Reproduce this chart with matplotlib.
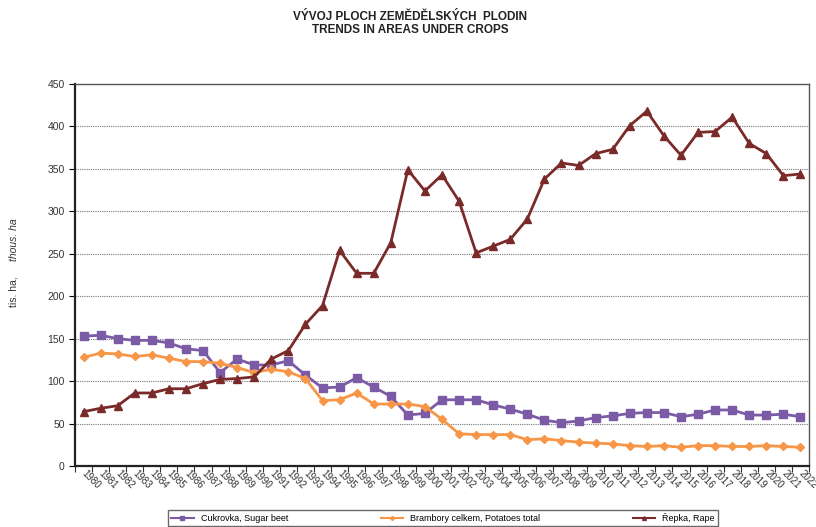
import numpy as np
import matplotlib
matplotlib.use("Agg")
import matplotlib.pyplot as plt
from matplotlib.ticker import MultipleLocator, FixedLocator

# data (thous. ha)
years = list(range(1980, 2023))
sugar_beet = [153, 154, 150, 148, 148, 145, 138, 136, 110, 126,
              119, 119, 124, 107, 92, 93, 104, 93, 82, 60,
              62, 78, 78, 78, 72, 67, 61, 54, 51, 53,
              57, 59, 62, 63, 63, 58, 61, 66, 66, 60,
              60, 61, 58]
potatoes = [128, 133, 132, 129, 131, 127, 123, 123, 121, 116,
            110, 114, 111, 103, 77, 78, 86, 73, 73, 73,
            70, 55, 38, 37, 37, 37, 31, 32, 30, 28,
            27, 26, 24, 23, 24, 22, 24, 24, 23, 23,
            24, 23, 22]
rape = [64, 68, 71, 86, 86, 91, 91, 97, 102, 103,
        105, 126, 136, 167, 189, 254, 227, 227, 263, 349,
        324, 343, 312, 251, 259, 267, 291, 338, 357, 354,
        368, 373, 401, 418, 389, 366, 393, 394, 411, 380,
        368, 342, 344]

labels = ["Cukrovka, Sugar beet", "Brambory celkem, Potatoes total", "Řepka, Rape"]
colors = ["#7B5BA6", "#F79646", "#7B2A2A"]

plt.rcParams['font.family'] = ['Liberation Sans Narrow', 'Liberation Sans', 'DejaVu Sans']

fig = plt.figure(figsize=(8.16, 5.27), dpi=100)
ax = fig.add_axes([75 / 816, 1 - 466 / 527, 734 / 816, 382 / 527])

x = np.arange(len(years))
ax.plot(x, sugar_beet, color=colors[0], lw=2, marker='s', ms=5.5, label=labels[0])
ax.plot(x, potatoes, color=colors[1], lw=2, marker='D', ms=4, label=labels[1])
ax.plot(x, rape, color=colors[2], lw=2, marker='^', ms=5.5, label=labels[2])

ax.set_xlim(-0.5, len(years) - 0.5)
ax.set_ylim(0, 450)
ax.yaxis.set_major_locator(MultipleLocator(50))
ax.grid(axis='y', color='#777777', linestyle=(0, (1, 1)), linewidth=0.8)
ax.set_axisbelow(True)

# ticks at category boundaries, labels at category centers
ax.xaxis.set_major_locator(FixedLocator(x))
ax.xaxis.set_minor_locator(FixedLocator(np.arange(-0.5, len(years), 1)))
ax.tick_params(axis='x', which='major', length=0, pad=4)
ax.tick_params(axis='x', which='minor', length=4, width=0.8, color='#333333')
ax.tick_params(axis='y', length=4, width=0.8, labelsize=7.5, labelcolor='#333333')
ax.set_xticklabels([str(y) for y in years], rotation=-45, ha='left', va='center',
                   rotation_mode='anchor', fontsize=7, color='#333333')

for side in ['left', 'bottom']:
    ax.spines[side].set_linewidth(1.6)
    ax.spines[side].set_color('#222222')
for side in ['top', 'right']:
    ax.spines[side].set_linewidth(1.0)
    ax.spines[side].set_color('#555555')

# y label: "tis. ha," normal + "thous. ha" italic
fig.text(14 / 816, 1 - 292 / 527, "tis. ha,", rotation=90, ha='center', va='center',
         fontsize=7.5, color='#333333')
fig.text(14 / 816, 1 - 240 / 527, "thous. ha", rotation=90, ha='center', va='center',
         fontsize=7.5, color='#333333', style='italic')

fig.text(410 / 816, 1 - 17 / 527, "VÝVOJ PLOCH ZEMĚDĚLSKÝCH  PLODIN", ha='center', va='center',
         fontsize=8.5, fontweight='bold', color='#222222')
fig.text(410 / 816, 1 - 30 / 527, "TRENDS IN AREAS UNDER CROPS", ha='center', va='center',
         fontsize=8.5, fontweight='bold', color='#222222')

leg = fig.legend(loc='upper left', bbox_to_anchor=(168 / 816, 1 - 510 / 527, 550 / 816, 0.0),
                 mode='expand', ncol=3, fontsize=6.5, frameon=True, fancybox=False,
                 handlelength=2.5, markerscale=0.5, borderpad=0.35, borderaxespad=0)
leg.get_frame().set_edgecolor('#444444')
leg.get_frame().set_linewidth(1.0)
for line in leg.get_lines():
    line.set_linewidth(1.5)

fig.savefig("out.png", dpi=100)
